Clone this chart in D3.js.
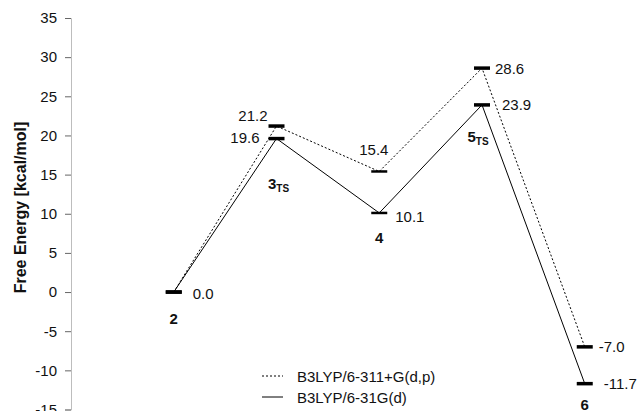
<!DOCTYPE html>
<html>
<head>
<meta charset="utf-8">
<script src="https://cdn.jsdelivr.net/npm/d3@7"></script>
<style>
  body { margin: 0; background: #fff; }
  text { font-family: "Liberation Sans", Arial, sans-serif; }
</style>
</head>
<body>
<main></main>
<script>
// data
const states = ['2', '3', '4', '5', '6'];
const stateSubs = ['', 'TS', '', 'TS', ''];
const seriesNames = ['B3LYP/6-311+G(d,p)', 'B3LYP/6-31G(d)'];
const energyLarge = [0.0, 21.2, 15.4, 28.6, -7.0];   // dotted
const energySmall = [0.0, 19.6, 10.1, 23.9, -11.7];  // solid
const yTicks = [35, 30, 25, 20, 15, 10, 5, 0, -5, -10, -15];

!function(){
    var w = 639;
    var h = 411;
    var fs = 15;

    let svg = d3.select('main').append('svg')
        .attr('width', w)
        .attr('height', h);

    // states sit at 1..5 on a 0..6 scale, axis at 0
    let x = d3.scaleLinear().domain([0, 6]).range([71, 687.5]);
    let y = d3.scaleLinear().domain([-15, 35]).range([409.5, 18]);

    let yAxis = d3.axisLeft(y)
        .tickValues(yTicks)
        .tickSize(6)
        .tickPadding(8)
        .tickFormat(d => String(d));

    let ax = svg.append('g')
        .attr('transform', 'translate(' + x(0) + ',0)')
        .call(yAxis);
    ax.select('.domain').attr('stroke', '#bdbdbd');
    ax.selectAll('.tick line').attr('stroke', '#666');
    ax.selectAll('.tick text')
        .attr('font-size', fs)
        .attr('fill', '#111')
        .style('font-family', '"Liberation Sans", Arial, sans-serif');

    svg.append('text')
        .attr('transform', 'translate(26,207.5) rotate(-90)')
        .attr('text-anchor', 'middle')
        .attr('font-size', 16)
        .attr('font-weight', 'bold')
        .attr('fill', '#111')
        .text('Free Energy [kcal/mol]');

    let series = [
        { name: seriesNames[0], values: energyLarge, dash: '2,2' },
        { name: seriesNames[1], values: energySmall, dash: null }
    ];

    let line = d3.line()
        .x((d, i) => x(i + 1))
        .y(d => y(d));

    series.forEach(s => {
        svg.append('path')
            .datum(s.values)
            .attr('fill', 'none')
            .attr('stroke', '#000')
            .attr('stroke-width', 1)
            .attr('stroke-dasharray', s.dash)
            .attr('d', line);

        svg.append('g').selectAll('line')
            .data(s.values)
            .join('line')
            .attr('x1', (d, i) => x(i + 1) - 8)
            .attr('x2', (d, i) => x(i + 1) + 8)
            .attr('y1', d => y(d))
            .attr('y2', d => y(d))
            .attr('stroke', '#000')
            .attr('stroke-width', (d, i) => i == 2 ? 2.5 : 3.5);
    });

    // label offsets [dx, dy, anchor] for each series
    let offLarge = [[19, 6.5, 'start'], [-9, -5.5, 'end'], [-20, -16, 'start'], [13, 5.5, 'start'], [14, 5, 'start']];
    let offSmall = [null, [-17, 4, 'end'], [16, 9.5, 'start'], [20, 5.5, 'start'], [19, 5, 'start']];

    [[energyLarge, offLarge], [energySmall, offSmall]].forEach(pair => {
        pair[0].forEach((v, i) => {
            let o = pair[1][i];
            if (!o) return;
            svg.append('text')
                .attr('x', x(i + 1) + o[0])
                .attr('y', y(v) + o[1])
                .attr('text-anchor', o[2])
                .attr('font-size', fs)
                .attr('fill', '#111')
                .text(v.toFixed(1));
        });
    });

    // state names under the lower level
    let stateOff = [[0, 32], [2, 50], [0, 30], [-4, 37], [0, 26.5]];
    states.forEach((s, i) => {
        let t = svg.append('text')
            .attr('x', x(i + 1) + stateOff[i][0])
            .attr('y', y(energySmall[i]) + stateOff[i][1])
            .attr('text-anchor', 'middle')
            .attr('font-size', fs)
            .attr('font-weight', 'bold')
            .attr('fill', '#111')
            .text(s);
        if (stateSubs[i]) {
            t.append('tspan')
                .attr('font-size', 10)
                .attr('dy', 3)
                .text(stateSubs[i]);
        }
    });

    // legend
    let lg = svg.append('g').attr('transform', 'translate(262,376)');
    series.forEach((s, i) => {
        lg.append('line')
            .attr('x1', 0).attr('x2', 21)
            .attr('y1', i * 21).attr('y2', i * 21)
            .attr('stroke', '#000')
            .attr('stroke-width', 1)
            .attr('stroke-dasharray', s.dash);
        lg.append('text')
            .attr('x', 35)
            .attr('y', i * 21 + 5.5)
            .attr('font-size', fs)
            .attr('fill', '#111')
            .text(s.name);
    });
}();
</script>
</body>
</html>
